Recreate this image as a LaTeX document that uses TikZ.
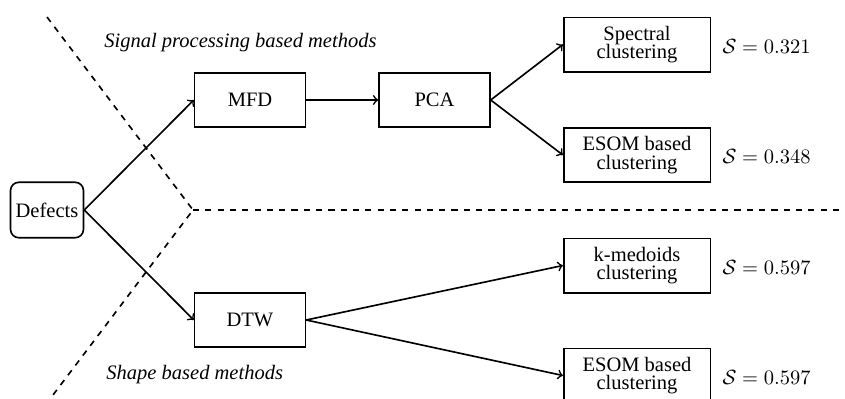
\documentclass[tikz,border=0pt]{standalone}
\usepackage{amsmath}
\usepackage{fontspec}
\setmainfont{Liberation Serif}
\usetikzlibrary{calc}

\begin{document}
\begin{tikzpicture}[x=0.01714cm,y=-0.01714cm,
	box/.style={draw,thick,minimum width=54pt,minimum height=26.5pt,align=center},
	widebox/.style={box,minimum width=71.5pt},
	score/.style={anchor=west,inner sep=0pt},
	group/.style={anchor=west,inner sep=0pt,font=\itshape}]
	\useasboundingbox (0,0) rectangle (845,398);
	% separators
	\coordinate (split) at (193,210);
	\draw[thick,dashed] (47,17)--(split)--(53,395);
	\draw[thick,dashed] (split)--(840,210);
	\node[group] (sigtext) at (104,43) {Signal processing based methods};
	\node[group] (shapetext) at (106,375) {Shape based methods};
	% boxes
	\node[draw,thick,rounded corners=4pt,minimum height=27pt,inner sep=2.5pt] (defects) at (47,210) {Defects};
	\node[box] (mfd) at (250,100) {MFD};
	\node[box] (pca) at (434.5,100) {PCA};
	\node[box] (dtw) at (250,320) {DTW};
	\node[widebox] (spectral) at (637,44.5) {Spectral\\[-3pt]clustering};
	\node[widebox] (esomA) at (637,155) {ESOM based\\[-3pt]clustering};
	\node[widebox] (kmedoids) at (637,265.5) {k-medoids\\[-3pt]clustering};
	\node[widebox] (esomB) at (637,375.5) {ESOM based\\[-3pt]clustering};
	% scores
	\node[score] (sA) at ($(spectral.east)+(11,1.5)$) {$\mathcal{S}=0.321$};
	\node[score] (sB) at ($(esomA.east)+(11,1.5)$) {$\mathcal{S}=0.348$};
	\node[score] (sC) at ($(kmedoids.east)+(11,1.5)$) {$\mathcal{S}=0.597$};
	\node[score] (sD) at ($(esomB.east)+(11,1.5)$) {$\mathcal{S}=0.597$};
	% arrows
	\draw[thick,->] (defects.east)--(mfd.west);
	\draw[thick,->] (defects.east)--(dtw.west);
	\draw[thick,->] (mfd)--(pca);
	\draw[thick,->] (pca.east)--(spectral.west);
	\draw[thick,->] (pca.east)--(esomA.west);
	\draw[thick,->] (dtw.east)--(kmedoids.west);
	\draw[thick,->] (dtw.east)--(esomB.west);
\end{tikzpicture}
\end{document}
